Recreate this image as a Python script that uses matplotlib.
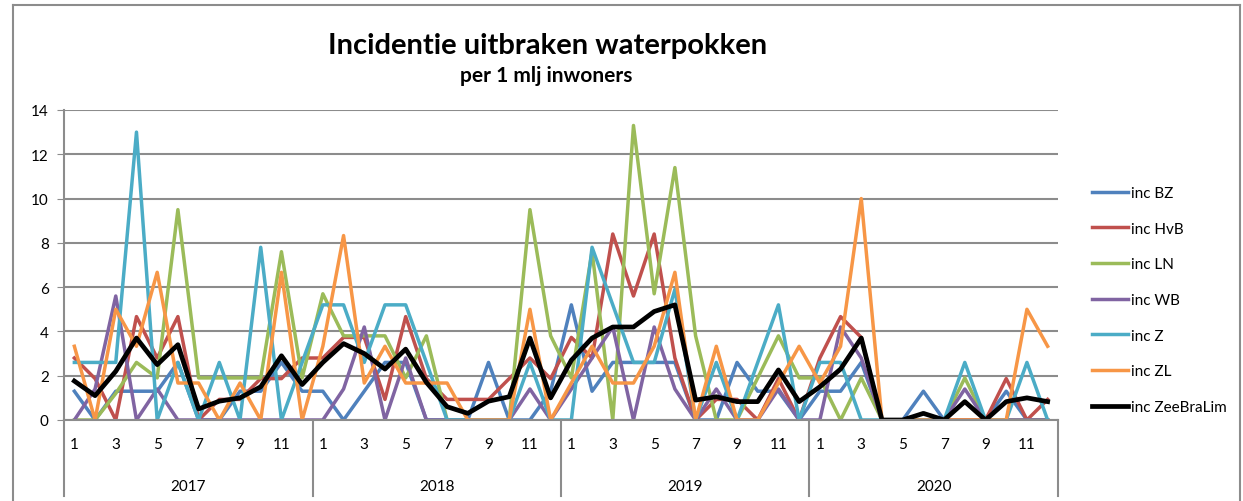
import matplotlib
matplotlib.use('Agg')
import matplotlib.pyplot as plt
import matplotlib.transforms as mtransforms
from matplotlib.lines import Line2D
import numpy as np

plt.rcParams['font.family'] = ['Lato', 'DejaVu Sans']

years = ['2017', '2018', '2019', '2020']
month_labels = ['1', '3', '5', '7', '9', '11']

# incidence per 1 mln inhabitants, Jan 2017 .. Dec 2020
inc_bz = [1.3, 0, 1.3, 1.3, 1.3, 2.6, 0, 0, 1.3, 1.3, 2.6, 1.3,
          1.3, 0, 1.3, 2.6, 2.6, 0, 0, 0, 2.6, 0, 0, 1.3,
          5.2, 1.3, 2.6, 2.6, 2.6, 2.6, 0, 0, 2.6, 1.3, 1.3, 0,
          1.3, 1.3, 2.6, 0, 0, 1.3, 0, 0, 0, 1.3, 0, 0]
inc_hvb = [2.8, 1.87, 0, 4.67, 2.8, 4.67, 0, 0.93, 0.93, 1.87, 1.87, 2.8,
           2.8, 3.73, 3.73, 0.93, 4.67, 1.87, 0.93, 0.93, 0.93, 1.87, 2.8, 1.87,
           3.73, 2.8, 8.4, 5.6, 8.4, 2.8, 0, 0.93, 0.93, 0, 1.87, 0,
           2.8, 4.67, 3.73, 0, 0, 0, 0, 0, 0, 1.87, 0, 0.93]
inc_ln = [0, 0, 1.2, 2.6, 1.9, 9.5, 1.9, 1.9, 1.9, 1.9, 7.6, 1.9,
          5.7, 3.8, 3.8, 3.8, 1.9, 3.8, 0, 0, 0, 0, 9.5, 3.8,
          1.9, 7.6, 0, 13.3, 5.7, 11.4, 3.8, 0, 0, 1.9, 3.8, 1.9,
          1.9, 0, 1.9, 0, 0, 0, 0, 1.9, 0, 0, 0, 0]
inc_wb = [0, 1.4, 5.6, 0, 1.4, 0, 0, 0, 0, 0, 0, 0,
          0, 1.4, 4.2, 0, 2.8, 0, 0, 0, 0, 0, 1.4, 0,
          1.4, 2.8, 4.2, 0, 4.2, 1.4, 0, 1.4, 0, 0, 1.4, 0,
          0, 4.2, 2.8, 0, 0, 0, 0, 1.4, 0, 0, 0, 0]
inc_z = [2.6, 2.6, 2.6, 13, 0, 2.6, 0, 2.6, 0, 7.8, 0, 2.6,
         5.2, 5.2, 2.6, 5.2, 5.2, 2.6, 0, 0, 0, 0, 2.6, 0,
         0, 7.8, 5.2, 2.6, 2.6, 5.9, 0, 2.6, 0, 2.6, 5.2, 0,
         2.6, 2.6, 0, 0, 0, 0, 0, 2.6, 0, 0, 2.6, 0]
inc_zl = [3.33, 0, 5, 3.33, 6.67, 1.67, 1.67, 0, 1.67, 0, 6.67, 0,
          3.33, 8.33, 1.67, 3.33, 1.67, 1.67, 1.67, 0, 0, 0, 5, 0,
          1.67, 3.33, 1.67, 1.67, 3.33, 6.67, 0, 3.33, 0, 0, 1.67, 3.33,
          1.67, 3.33, 10, 0, 0, 0, 0, 0, 0, 0, 5, 3.33]
inc_zeebralim = [1.76, 1.1, 2.2, 3.7, 2.5, 3.4, 0.5, 0.85, 1.0, 1.5, 2.9, 1.6,
                 2.6, 3.45, 3.0, 2.3, 3.2, 1.7, 0.6, 0.3, 0.85, 1.05, 3.7, 1.0,
                 2.7, 3.7, 4.2, 4.2, 4.9, 5.2, 0.9, 1.05, 0.83, 0.83, 2.26, 0.83,
                 1.5, 2.3, 3.7, 0, 0, 0.3, 0, 0.83, 0, 0.83, 1.0, 0.83]

series = [
    ('inc BZ', inc_bz, '#4F81BD'),
    ('inc HvB', inc_hvb, '#C0504D'),
    ('inc LN', inc_ln, '#9BBB59'),
    ('inc WB', inc_wb, '#8064A2'),
    ('inc Z', inc_z, '#4BACC6'),
    ('inc ZL', inc_zl, '#F79646'),
    ('inc ZeeBraLim', inc_zeebralim, '#000000'),
]

fig = plt.figure(figsize=(12.43, 5.02), dpi=100)
ax = fig.add_axes([64/1243, 81/502, 994/1243, 310/502])

x = np.arange(48)
for name, vals, col in series:
    lw = 3.4 if col == '#000000' else 2.5
    ax.plot(x, vals, color=col, lw=lw, label=name)

grid_col = '#8C8C8C'
ax.set_ylim(0, 14)
ax.set_xlim(-0.5, 47.5)
ax.set_yticks(range(0, 15, 2))
ax.yaxis.grid(True, color=grid_col, lw=1.5)
ax.set_axisbelow(True)
for s in ['top', 'right']:
    ax.spines[s].set_visible(False)
for s in ['left', 'bottom']:
    ax.spines[s].set_color(grid_col)
    ax.spines[s].set_linewidth(1.5)
ax.tick_params(axis='y', length=5, color=grid_col, labelsize=11, pad=6)

# month labels (odd months) and year labels
ticks = [y * 12 + m for y in range(4) for m in range(0, 12, 2)]
ax.set_xticks(ticks)
ax.set_xticklabels(month_labels * 4)
ax.tick_params(axis='x', length=0, labelsize=11, pad=12)

trans = mtransforms.blended_transform_factory(ax.transData, ax.transAxes)
for k in range(5):
    ax.plot([k * 12 - 0.5] * 2, [0, -0.245], transform=trans, color=grid_col,
            lw=1.5, clip_on=False)
for k, yr in enumerate(years):
    ax.text(k * 12 + 5.5, -0.213, yr, transform=trans, ha='center', va='center',
            fontsize=11)

fig.text(548/1243, 1 - 46/502, 'Incidentie uitbraken waterpokken', ha='center',
         va='center', fontsize=21, fontweight='bold')
fig.text(546/1243, 1 - 76/502, 'per 1 mlj inwoners', ha='center', va='center',
         fontsize=15, fontweight='bold')

ax.legend(loc='center left', bbox_to_anchor=(1078/1243, 201/502),
          bbox_transform=fig.transFigure, frameon=False, fontsize=11,
          handlelength=2.4, handletextpad=0.2, labelspacing=1.42)

# outer chart border
bc = '#8C8C8C'
fig.add_artist(Line2D([13/1243, 13/1243], [0, 1 - 6/502], color=bc, lw=1.5))
fig.add_artist(Line2D([13/1243, 1240/1243], [1 - 6/502, 1 - 6/502], color=bc, lw=1.5))
fig.add_artist(Line2D([1240/1243, 1240/1243], [0, 1 - 6/502], color=bc, lw=1.5))

fig.savefig('out.png', dpi=100)
